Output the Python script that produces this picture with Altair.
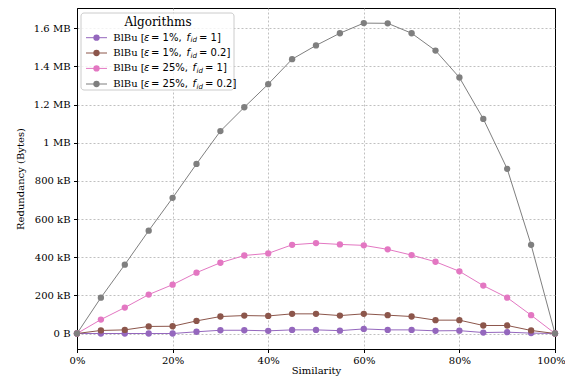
import altair as alt
import pandas as pd

# ---------------- data ----------------
similarity = [0, 5, 10, 15, 20, 25, 30, 35, 40, 45, 50, 55, 60, 65, 70, 75, 80, 85, 90, 95, 100]

series_keys = ["e1_f1", "e1_f02", "e25_f1", "e25_f02"]
series_colors = ["#9467bd", "#8c564b", "#e377c2", "#7f7f7f"]
eps_labels = ["1%", "1%", "25%", "25%"]
fid_labels = ["1", "0.2", "1", "0.2"]

# redundancy in kB
kb_e1_f1 = [0, 0, 0, 0, 0, 9, 17, 17, 14, 19, 19, 15, 24, 19, 19, 14, 15, 5, 7, 2, 0]
kb_e1_f02 = [0, 16, 19, 37, 38, 66, 89, 94, 92, 103, 103, 94, 103, 96, 89, 70, 70, 42, 42, 16, 0]
kb_e25_f1 = [0, 73, 136, 204, 256, 319, 371, 409, 420, 465, 474, 467, 462, 441, 411, 376, 326, 251, 188, 96, 0]
kb_e25_f02 = [0, 188, 361, 539, 711, 889, 1061, 1186, 1307, 1438, 1510, 1574, 1627, 1626,
              1574, 1483, 1342, 1125, 863, 465, 0]

y_ticks = [0, 200000, 400000, 600000, 800000, 1000000, 1200000, 1400000, 1600000]
x_ticks = [0, 20, 40, 60, 80, 100]

all_kb = [kb_e1_f1, kb_e1_f02, kb_e25_f1, kb_e25_f02]

SERIF = "DejaVu Serif"
SANS = "DejaVu Sans"

x_enc = alt.X(
    "similarity:Q",
    scale=alt.Scale(domain=[0, 100], nice=False, zero=False),
    axis=alt.Axis(
        values=x_ticks,
        labelExpr="datum.value + '%'",
        title="Similarity",
        labelOffset={"condition": {"test": "datum.value == 100", "value": -4}, "value": 0},
        gridOpacity={"condition": {"test": "datum.value == 100 || datum.value == 0", "value": 0}, "value": 1},
    ),
)
y_enc = alt.Y(
    "bytes:Q",
    scale=alt.Scale(domain=[-81250, 1706250], nice=False, zero=False),
    axis=alt.Axis(
        values=y_ticks,
        labelExpr="datum.value == 0 ? '0 B' : (datum.value < 1000000 ? format(datum.value/1000, 'd') + ' kB' : format(datum.value/1000000, '.2~g') + ' MB')",
        title="Redundancy (Bytes)",
    ),
)

layers = []
for key, color, kb in zip(series_keys, series_colors, all_kb):
    df = pd.DataFrame({"similarity": similarity, "bytes": [v * 1000 for v in kb]})
    base = alt.Chart(df).encode(x=x_enc, y=y_enc)
    layers.append(base.mark_line(color=color, strokeWidth=1))
    layers.append(base.mark_circle(color=color, size=40, opacity=1))

# ---------------- custom legend ----------------
one = pd.DataFrame({"k": [0]})


def txt(text, x, y, font=SANS, size=10, style="normal", align="left"):
    return alt.Chart(one).mark_text(
        text=text, font=font, fontSize=size, fontStyle=style, align=align,
        baseline="middle", color="black"
    ).encode(x=alt.value(x), y=alt.value(y))


layers.append(
    alt.Chart(one).mark_rect(
        fill="white", fillOpacity=0.8, stroke="#cccccc", strokeWidth=1, cornerRadius=3
    ).encode(x=alt.value(4), x2=alt.value(157), y=alt.value(5), y2=alt.value(82))
)
layers.append(txt("Algorithms", 81, 13.5, font=SERIF, size=12, align="center"))

row_y = [29.7, 45.0, 60.4, 76.0]
for i, color in enumerate(series_colors):
    ry = row_y[i]
    shift = 6.0 if eps_labels[i] == "25%" else 0
    layers.append(
        alt.Chart(one).mark_rule(color=color, strokeWidth=1).encode(
            x=alt.value(9), x2=alt.value(30), y=alt.value(ry)
        )
    )
    layers.append(
        alt.Chart(one).mark_circle(color=color, size=40, opacity=1).encode(
            x=alt.value(19.5), y=alt.value(ry)
        )
    )
    layers.append(txt("BlBu [", 36.3, ry, font=SERIF))
    layers.append(txt("ε", 67, ry, style="italic"))
    layers.append(txt("= " + eps_labels[i] + ",", 74, ry))
    layers.append(txt("f", 109.5 + shift, ry, style="italic"))
    layers.append(txt("id", 113.6 + shift, ry + 2.5, size=7, style="italic"))
    layers.append(txt("= " + fid_labels[i] + "]", 122.0 + shift, ry))

chart = (
    alt.layer(*layers)
    .properties(
        width=478,
        height=341,
        autosize=alt.AutoSizeParams(type="none"),
        padding={"left": 69, "top": 0, "right": 10, "bottom": 28},
    )
    .configure_view(stroke="black", strokeWidth=1)
    .configure_axis(
        labelFont=SERIF,
        labelFontSize=10,
        labelColor="black",
        labelFlush=False,
        titleFont=SERIF,
        titleFontSize=10,
        titleFontWeight="normal",
        titleColor="black",
        domainColor="black",
        domainWidth=1,
        tickColor="black",
        tickSize=3.5,
        tickWidth=1,
        grid=True,
        gridColor="#b0b0b0",
        gridDash=[2, 2],
        gridWidth=0.8,
        labelPadding=3.5,
    )
    .configure_axisY(titlePadding=8)
    .configure_axisX(titlePadding=0, labelPadding=2.5)
)

chart.save("out.html", embed_options={"renderer": "svg", "actions": False})
